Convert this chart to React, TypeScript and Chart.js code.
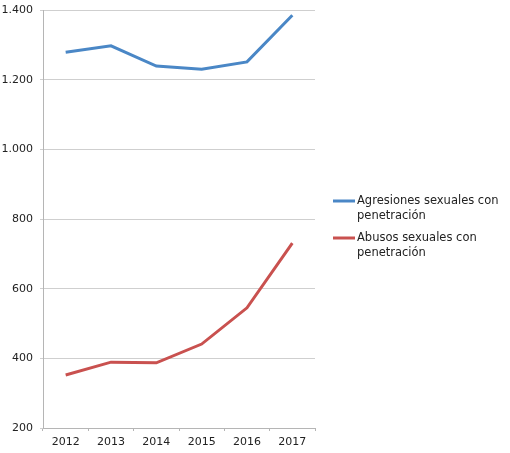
import React, { useEffect, useRef } from "react";
import { Chart, registerables } from "chart.js";

Chart.register(...registerables);

const years = ["2012", "2013", "2014", "2015", "2016", "2017"];
const agresiones = [1279, 1297, 1239, 1230, 1251, 1385];
const abusos = [352, 389, 387, 441, 545, 731];
const legendLines = [
  ["Agresiones sexuales con", "penetración"],
  ["Abusos sexuales con", "penetración"],
];
const seriesNames = ["Agresiones sexuales con penetración", "Abusos sexuales con penetración"];
const seriesColors = ["#4a87c6", "#c9514f"];

const FONT = "'DejaVu Sans', Verdana, sans-serif";

const fmt = (v: number) => String(v).replace(/\B(?=(\d{3})+(?!\d))/g, ".");

const legendPlugin = {
  id: "sideLegend",
  afterDraw(chart: any) {
    const ctx = chart.ctx;
    ctx.save();
    ctx.font = `11.5px ${FONT}`;
    ctx.textBaseline = "middle";
    ctx.textAlign = "left";
    const x0 = 333;
    let y = 201;
    chart.data.datasets.forEach((ds: any, i: number) => {
      ctx.strokeStyle = ds.borderColor;
      ctx.lineWidth = 3;
      ctx.beginPath();
      ctx.moveTo(x0, y);
      ctx.lineTo(x0 + 22, y);
      ctx.stroke();
      ctx.fillStyle = "#222";
      legendLines[i].forEach((line, j) => {
        ctx.fillText(line, x0 + 24, y + j * 15);
      });
      y += 37;
    });
    ctx.restore();
  },
};

export default function App() {
  const ref = useRef<HTMLCanvasElement | null>(null);
  useEffect(() => {
    document.body.style.margin = "0";
    if (!ref.current) return;
    const chart = new Chart(ref.current, {
      type: "line",
      data: {
        labels: years,
        datasets: [
          {
            label: seriesNames[0],
            data: agresiones,
            borderColor: seriesColors[0],
            backgroundColor: seriesColors[0],
            borderWidth: 3,
            pointRadius: 0,
            tension: 0,
          },
          {
            label: seriesNames[1],
            data: abusos,
            borderColor: seriesColors[1],
            backgroundColor: seriesColors[1],
            borderWidth: 3,
            pointRadius: 0,
            tension: 0,
          },
        ],
      },
      options: {
        animation: false,
        responsive: false,
        layout: { padding: { top: 10, right: 195, left: 0, bottom: 0 } },
        plugins: {
          legend: { display: false },
          tooltip: { enabled: false },
        },
        scales: {
          x: {
            offset: true,
            grid: {
              offset: true,
              drawOnChartArea: false,
              drawTicks: true,
              tickLength: 3,
              color: "#b5b5b5",
            },
            border: { color: "#b5b5b5" },
            ticks: {
              color: "#222",
              font: { family: FONT, size: 11 },
              padding: 5,
              maxRotation: 0,
            },
            afterFit(scale: any) {
              scale.height = 25;
            },
          },
          y: {
            min: 200,
            max: 1400,
            grid: {
              color: "#cfcfcf",
              tickLength: 3,
            },
            border: { color: "#b5b5b5" },
            ticks: {
              stepSize: 200,
              color: "#222",
              font: { family: FONT, size: 11 },
              padding: 7,
              callback: (v: any) => fmt(Number(v)),
            },
            afterFit(scale: any) {
              scale.width = 43;
              scale.paddingTop = 0;
            },
          },
        },
      },
      plugins: [legendPlugin],
    });
    return () => chart.destroy();
  }, []);
  return (
    <div style={{ width: 510, height: 453 }}>
      <canvas ref={ref} width={510} height={453} style={{ width: 510, height: 453 }} />
    </div>
  );
}
